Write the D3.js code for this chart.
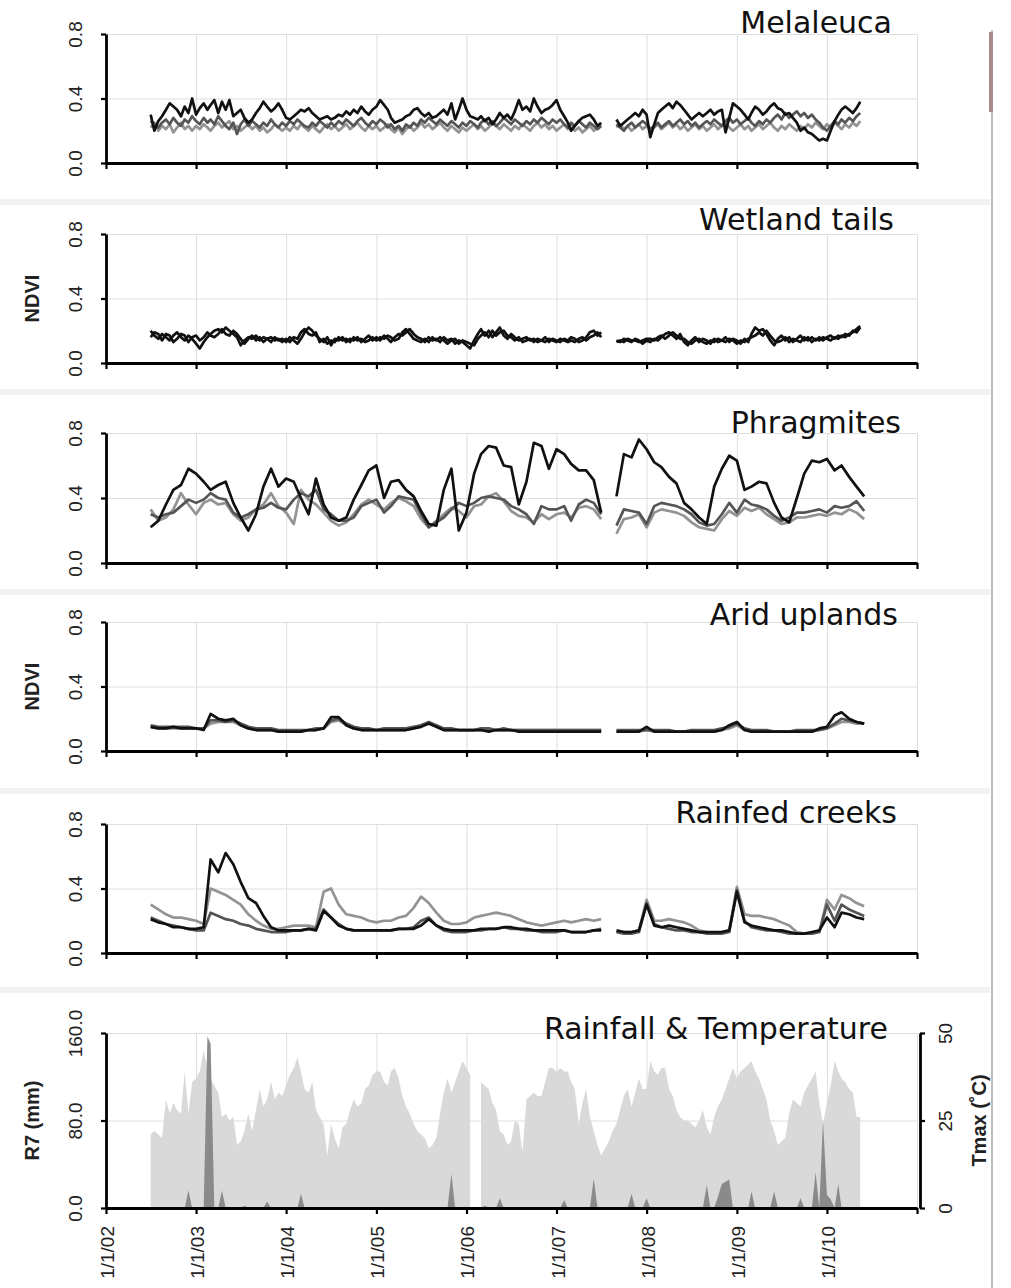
<!DOCTYPE html>
<html lang="en">
<head>
<meta charset="UTF-8" />
<title>NDVI, rainfall and temperature</title>
<script src="https://cdn.jsdelivr.net/npm/d3@7"></script>
<style>
  body { margin: 0; background: #fff; }
  svg { display: block; }
</style>
</head>
<body>
<svg id="vis" width="1011" height="1288"></svg>
<script>
// ---- dates: half-monthly (1st / 16th) Jul 2002 - May 2010, monthly Jul 2002 - Jun 2010
var halfMonths = [];
d3.timeMonth.range(new Date(2002, 6, 1), new Date(2010, 5, 1)).forEach(function (m) {
  halfMonths.push(m);
  halfMonths.push(new Date(m.getFullYear(), m.getMonth(), 16));
});
var months = d3.timeMonth.range(new Date(2002, 6, 1), new Date(2010, 6, 1));

// ---- Melaleuca (half-monthly)
var mel1 = [
  .30,.20,.26,.29,.33,.37,.35,.33,.29,.35,.31,.40,
  .30,.34,.37,.33,.36,.39,.31,.38,.33,.39,.29,.31,.33,.28,.25,.27,.31,.34,.38,.35,.32,.34,.37,.33,
  .28,.27,.29,.31,.33,.32,.34,.31,.29,.27,.28,.29,.27,.28,.30,.29,.32,.30,.33,.31,.35,.32,.30,.33,
  .35,.39,.36,.33,.28,.25,.26,.27,.29,.30,.33,.34,.31,.29,.31,.28,.29,.31,.33,.30,.37,.27,.33,.40,
  .33,.29,.28,.27,.29,.26,.28,.24,.27,.31,.28,.30,.27,.32,.39,.33,.35,.32,.40,.35,.31,.33,.34,.36,
  .39,.33,.29,.25,.20,.23,.26,.28,.29,.30,.27,.23,.25,null,null,null,.27,.23,.25,.27,.29,.31,.29,.33,
  .30,.16,.24,.31,.33,.35,.37,.34,.38,.36,.33,.30,.27,.29,.31,.29,.31,.33,.30,.32,.33,.19,.28,.37,
  .35,.33,.30,.27,.31,.35,.33,.30,.32,.35,.37,.34,.33,.30,.31,.28,.25,.20,.22,.19,.18,.16,.14,.15,
  .14,.20,.26,.30,.33,.35,.33,.31,.34,.38
];
var mel2 = [
  .26,.24,.22,.25,.27,.24,.28,.25,.23,.27,.25,.29,
  .26,.24,.28,.25,.27,.24,.29,.26,.23,.21,.25,.18,.24,.27,.23,.26,.24,.22,.25,.23,.27,.24,.22,.25,
  .23,.26,.24,.27,.25,.23,.22,.25,.23,.26,.24,.22,.25,.23,.26,.24,.27,.25,.23,.26,.28,.25,.23,.26,
  .24,.27,.25,.22,.24,.21,.23,.20,.24,.22,.25,.23,.27,.25,.28,.26,.24,.27,.25,.23,.26,.24,.22,.25,
  .23,.26,.24,.22,.25,.27,.24,.26,.23,.25,.28,.26,.24,.27,.25,.23,.26,.24,.27,.25,.28,.26,.24,.27,
  .25,.27,.24,.22,.25,.23,.26,.24,.22,.25,.23,.21,.23,null,null,null,.24,.22,.20,.23,.25,.22,.24,.26,
  .24,.21,.23,.25,.22,.24,.26,.23,.25,.27,.24,.26,.23,.25,.22,.24,.26,.24,.27,.25,.23,.26,.28,.25,
  .27,.24,.26,.28,.25,.23,.26,.24,.27,.25,.28,.30,.27,.31,.28,.30,.32,.29,.31,.28,.30,.27,.25,.22,
  .20,.23,.26,.24,.27,.25,.28,.26,.29,.31
];
var mel3 = [
  .22,.25,.20,.23,.21,.24,.19,.22,.25,.21,.23,.20,
  .23,.21,.24,.22,.20,.23,.25,.22,.24,.26,.21,.23,.20,.22,.24,.21,.23,.20,.22,.19,.21,.24,.22,.20,
  .22,.20,.23,.21,.24,.22,.20,.23,.21,.19,.22,.24,.21,.23,.20,.22,.24,.21,.23,.25,.22,.20,.23,.21,
  .23,.20,.22,.24,.21,.19,.22,.18,.21,.23,.20,.22,.25,.22,.24,.21,.23,.25,.22,.20,.23,.21,.19,.22,
  .20,.22,.24,.21,.23,.20,.22,.25,.23,.21,.24,.22,.20,.23,.21,.24,.22,.20,.23,.25,.22,.24,.21,.23,
  .20,.22,.24,.21,.23,.20,.22,.19,.21,.23,.20,.22,.24,null,null,null,.22,.24,.21,.23,.20,.22,.24,.21,
  .23,.20,.22,.24,.21,.23,.25,.22,.24,.21,.23,.20,.22,.24,.21,.23,.20,.22,.24,.21,.23,.25,.22,.20,
  .22,.24,.21,.23,.20,.22,.24,.21,.23,.25,.22,.20,.23,.21,.24,.22,.20,.23,.21,.24,.22,.25,.23,.21,
  .24,.22,.25,.23,.21,.24,.22,.25,.23,.26
];

// ---- Wetland tails (half-monthly)
var wet1 = [
  .20,.17,.15,.18,.16,.14,.17,.19,.16,.14,.17,.15,
  .12,.09,.13,.16,.18,.20,.21,.19,.22,.20,.18,.16,.11,.14,.16,.15,.17,.14,.16,.15,.13,.16,.14,.15,
  .13,.16,.14,.12,.15,.19,.22,.20,.17,.15,.13,.16,.11,.15,.14,.16,.13,.15,.14,.16,.13,.15,.17,.14,
  .16,.14,.17,.15,.13,.16,.18,.17,.19,.21,.18,.16,.15,.13,.16,.14,.15,.13,.16,.14,.15,.12,.14,.13,
  .11,.09,.14,.18,.21,.17,.20,.16,.19,.22,.17,.15,.18,.16,.14,.15,.16,.14,.15,.13,.14,.16,.13,.15,
  .14,.13,.15,.14,.16,.15,.13,.14,.16,.19,.20,.17,.19,null,null,null,.14,.13,.15,.14,.13,.15,.14,.12,
  .14,.13,.15,.14,.16,.18,.19,.17,.15,.18,.13,.11,.14,.16,.13,.15,.14,.12,.15,.13,.14,.16,.13,.15,
  .14,.12,.15,.13,.18,.22,.20,.21,.18,.14,.11,.15,.17,.14,.16,.13,.15,.17,.14,.16,.13,.15,.14,.16,
  .15,.14,.16,.15,.17,.16,.18,.19,.21,.23
];
var wet2 = [
  .16,.19,.18,.14,.18,.17,.13,.15,.18,.17,.13,.16,
  .17,.14,.16,.19,.17,.16,.18,.21,.18,.17,.20,.18,.15,.12,.15,.17,.14,.16,.13,.15,.16,.14,.15,.13,
  .15,.13,.16,.15,.19,.21,.18,.17,.19,.13,.15,.12,.14,.13,.16,.14,.15,.13,.16,.14,.15,.13,.14,.16,
  .14,.16,.15,.17,.16,.14,.15,.19,.21,.18,.15,.14,.13,.15,.13,.16,.14,.16,.14,.12,.14,.15,.12,.14,
  .13,.12,.11,.15,.17,.19,.16,.20,.17,.19,.20,.17,.16,.14,.16,.13,.14,.15,.13,.15,.14,.13,.15,.14,
  .13,.15,.14,.13,.14,.13,.15,.16,.14,.16,.17,.19,.16,null,null,null,.13,.14,.13,.15,.14,.14,.13,.14,
  .15,.15,.14,.16,.17,.15,.17,.19,.17,.15,.15,.13,.12,.14,.15,.13,.12,.14,.13,.15,.14,.13,.15,.14,
  .12,.14,.13,.15,.16,.17,.19,.17,.20,.17,.14,.13,.14,.16,.13,.15,.14,.13,.16,.14,.16,.14,.16,.14,
  .16,.17,.15,.17,.16,.18,.17,.20,.19,.22
];

// ---- Phragmites (monthly)
var phr1 = [
  .22,.26,.36,.45,.48,.58,
  .55,.50,.45,.48,.50,.37,.28,.20,.30,.47,.58,.47,
  .52,.50,.40,.30,.52,.36,.28,.26,.28,.39,.48,.57,
  .60,.40,.50,.51,.45,.41,.32,.24,.23,.45,.58,.20,
  .31,.55,.67,.72,.71,.60,.59,.36,.50,.74,.72,.58,
  .70,.67,.61,.57,.57,.51,.31,null,.41,.67,.65,.76,
  .70,.62,.59,.53,.49,.37,.33,.28,.24,.47,.58,.66,
  .63,.45,.47,.50,.49,.37,.28,.25,.40,.55,.63,.62,
  .64,.57,.60,.53,.47,.41
];
var phr2 = [
  .30,.28,.30,.31,.35,.39,
  .37,.39,.43,.40,.39,.31,.28,.30,.33,.34,.37,.34,
  .33,.39,.43,.41,.45,.33,.30,.26,.26,.28,.35,.37,
  .39,.31,.35,.41,.40,.39,.30,.22,.25,.28,.33,.37,
  .35,.37,.40,.41,.40,.39,.35,.33,.30,.24,.35,.33,
  .33,.35,.26,.36,.39,.37,.30,null,.23,.33,.32,.31,
  .24,.35,.37,.36,.35,.33,.30,.25,.23,.24,.30,.37,
  .31,.39,.36,.35,.33,.29,.26,.28,.31,.31,.32,.33,
  .31,.35,.34,.35,.38,.32
];
var phr3 = [
  .33,.26,.28,.33,.43,.36,
  .30,.37,.39,.36,.37,.30,.26,.28,.33,.36,.43,.35,
  .31,.24,.45,.39,.36,.31,.26,.23,.25,.30,.36,.39,
  .36,.33,.37,.40,.38,.35,.27,.22,.26,.30,.34,.32,
  .28,.35,.36,.41,.43,.38,.32,.29,.28,.25,.30,.27,
  .30,.31,.28,.34,.35,.33,.27,null,.18,.27,.28,.30,
  .22,.31,.33,.32,.31,.29,.25,.22,.21,.20,.27,.32,
  .29,.34,.32,.34,.30,.27,.24,.25,.28,.28,.29,.30,
  .29,.31,.30,.33,.31,.27
];

// ---- Arid uplands (monthly)
var arid1 = [
  .15,.14,.14,.15,.14,.14,
  .14,.13,.23,.20,.19,.20,.16,.14,.13,.13,.13,.12,
  .12,.12,.12,.13,.13,.14,.21,.21,.16,.14,.13,.13,
  .13,.13,.13,.13,.13,.14,.15,.17,.15,.13,.13,.13,
  .13,.13,.13,.12,.13,.13,.13,.12,.12,.12,.12,.12,
  .12,.12,.12,.12,.12,.12,.12,null,.12,.12,.12,.12,
  .15,.12,.12,.12,.12,.12,.12,.12,.12,.12,.13,.16,
  .18,.13,.12,.12,.12,.12,.12,.12,.12,.12,.12,.14,
  .15,.22,.24,.20,.18,.17
];
var arid2 = [
  .16,.15,.15,.15,.15,.15,
  .14,.14,.19,.19,.18,.19,.17,.15,.14,.14,.14,.13,
  .13,.13,.13,.13,.14,.14,.19,.20,.17,.15,.14,.14,
  .13,.14,.14,.14,.14,.15,.16,.18,.16,.14,.14,.13,
  .13,.13,.14,.14,.13,.14,.13,.13,.13,.13,.13,.13,
  .13,.13,.13,.13,.13,.13,.13,null,.13,.13,.13,.13,
  .13,.13,.13,.13,.12,.12,.13,.13,.13,.13,.14,.15,
  .17,.14,.13,.13,.13,.12,.12,.12,.13,.13,.13,.13,
  .14,.17,.20,.19,.18,.17
];
var arid3 = [
  .15,.14,.14,.14,.14,.14,
  .14,.14,.17,.18,.18,.18,.16,.14,.13,.13,.13,.12,
  .12,.12,.12,.13,.13,.14,.18,.19,.16,.14,.13,.13,
  .13,.13,.13,.13,.13,.14,.16,.17,.15,.13,.13,.13,
  .13,.13,.13,.13,.13,.13,.13,.13,.13,.13,.13,.13,
  .13,.13,.13,.13,.13,.13,.13,null,.12,.12,.12,.12,
  .13,.12,.12,.12,.12,.12,.12,.12,.12,.12,.13,.14,
  .16,.13,.12,.12,.12,.12,.12,.12,.12,.12,.12,.13,
  .14,.16,.18,.18,.17,.17
];

// ---- Rainfed creeks (monthly)
var cr1 = [
  .21,.19,.18,.16,.16,.15,
  .15,.16,.58,.50,.62,.55,.44,.34,.31,.23,.16,.14,
  .14,.14,.14,.15,.14,.26,.22,.17,.15,.14,.14,.14,
  .14,.14,.14,.15,.15,.15,.17,.21,.17,.15,.14,.14,
  .14,.14,.15,.15,.15,.16,.16,.15,.15,.14,.14,.14,
  .14,.14,.13,.13,.13,.14,.14,null,.14,.13,.13,.14,
  .30,.17,.16,.17,.16,.15,.14,.13,.13,.13,.13,.14,
  .38,.19,.17,.16,.15,.14,.14,.13,.12,.12,.13,.14,
  .22,.16,.25,.24,.22,.21
];
var cr2 = [
  .30,.27,.24,.22,.22,.21,
  .20,.18,.40,.38,.36,.33,.30,.24,.20,.17,.15,.15,
  .16,.17,.17,.17,.16,.38,.40,.30,.24,.23,.22,.20,
  .19,.20,.20,.22,.23,.28,.35,.31,.25,.20,.18,.18,
  .19,.22,.23,.24,.25,.24,.23,.21,.19,.18,.17,.18,
  .19,.20,.19,.20,.21,.20,.21,null,.13,.13,.13,.14,
  .33,.20,.20,.21,.20,.19,.17,.14,.13,.12,.13,.14,
  .41,.24,.23,.23,.22,.21,.19,.17,.13,.12,.12,.13,
  .33,.27,.36,.34,.31,.29
];
var cr3 = [
  .22,.20,.18,.17,.16,.15,
  .14,.14,.25,.23,.21,.20,.18,.17,.15,.14,.13,.13,
  .13,.14,.14,.15,.15,.27,.22,.18,.15,.14,.14,.14,
  .14,.14,.14,.15,.15,.16,.20,.22,.17,.14,.13,.13,
  .13,.14,.14,.15,.15,.16,.15,.15,.14,.14,.13,.13,
  .13,.14,.13,.13,.13,.14,.15,null,.13,.12,.12,.13,
  .31,.18,.16,.15,.14,.14,.13,.13,.12,.12,.12,.13,
  .39,.20,.16,.15,.14,.14,.13,.12,.12,.12,.12,.13,
  .30,.20,.30,.27,.25,.23
];

// ---- Rainfall & temperature (half-monthly)
var tmax = [
  21,22,21,20,31,27,30,28,27,39,27,36,
  37,39,45,40,37,35,33,26,27,25,26,18,19,22,27,22,28,34,29,31,36,31,33,32,
  35,38,40,43,39,34,33,36,28,26,24,15,24,20,17,23,24,28,31,29,30,34,35,38,
  39,39,36,35,39,40,37,32,29,27,24,22,21,20,17,18,20,27,33,37,33,36,39,42,
  40,38,null,null,36,35,34,30,28,22,21,18,19,25,24,16,31,32,33,32,32,36,40,40,
  39,40,39,39,36,34,24,30,34,26,22,18,15,17,19,22,24,28,32,34,29,33,37,34,
  34,42,39,38,40,40,34,32,28,26,25,25,24,23,25,28,23,21,26,29,31,34,37,40,
  37,39,40,41,42,39,37,34,31,25,22,18,19,20,27,31,30,29,33,35,37,39,30,24,
  30,35,42,39,37,36,34,33,26,26
];
var r7 = [
  0,0,0,0,0,0,0,0,0,0,16,0,
  0,0,0,157,150,0,0,16,0,0,0,0,0,2,0,0,0,0,0,6,0,0,0,0,
  0,0,0,0,13,0,0,0,0,0,0,0,0,0,0,0,0,0,0,0,0,1,0,0,
  0,0,0,0,0,0,0,0,0,0,0,0,0,0,0,0,0,0,0,0,31,0,0,0,
  0,0,null,null,0,2,0,0,0,9,0,0,0,0,0,0,0,0,0,0,0,0,0,0,
  0,0,7,0,0,0,0,0,0,0,27,0,0,0,0,0,0,0,0,0,13,0,0,0,
  9,0,0,0,0,0,0,0,0,0,0,0,0,0,0,0,21,0,0,10,22,24,26,0,
  0,0,0,0,15,0,0,0,0,0,15,0,0,0,0,0,0,9,0,0,0,33,0,80,
  12,8,0,22,0,0,0,0,0,0
];

var ndviTicks = [0, 0.4, 0.8];
var rainTicks = [0, 80, 160];
var tempTicks = [0, 25, 50];

// ---- layout
var BLACK = "#111", DARK = "#555", GREY = "#939393";
var x0 = 106, x1 = 917;
var panels = [
  { title: "Melaleuca", top: 34, bottom: 163, tEnd: 892, tBase: 33, dates: halfMonths,
    series: [mel3, mel2, mel1], colors: [GREY, DARK, BLACK], label: null },
  { title: "Wetland tails", top: 234, bottom: 363, tEnd: 894, tBase: 230, dates: halfMonths,
    series: [wet2, wet1], colors: [BLACK, BLACK], label: "NDVI" },
  { title: "Phragmites", top: 433, bottom: 563, tEnd: 901, tBase: 433, dates: months,
    series: [phr3, phr2, phr1], colors: [GREY, DARK, BLACK], label: null },
  { title: "Arid uplands", top: 622, bottom: 751, tEnd: 898, tBase: 625, dates: months,
    series: [arid3, arid2, arid1], colors: [GREY, DARK, BLACK], label: "NDVI" },
  { title: "Rainfed creeks", top: 824, bottom: 953, tEnd: 897, tBase: 823, dates: months,
    series: [cr2, cr3, cr1], colors: [GREY, DARK, BLACK], label: null }
];
var rainPanel = { title: "Rainfall & Temperature", top: 1033, bottom: 1208, tEnd: 888, tBase: 1039 };

var svg = d3.select("#vis");
var x = d3.scaleTime().domain([new Date(2002, 0, 1), new Date(2011, 0, 1)]).range([x0, x1]);
var years = d3.timeYear.range(new Date(2002, 0, 1), new Date(2011, 0, 2));
var lastYear = years[years.length - 1];
var tickFont = "'Liberation Sans', Arial, sans-serif";
var dateFmt = d3.timeFormat("%-m/%-d/%y");

// faint scan artefacts: panel separators and right border
[199, 389, 589, 788, 987].forEach(function (yy) {
  svg.append("rect").attr("x", 0).attr("y", yy).attr("width", 990).attr("height", 6).attr("fill", "#f2f2f2");
});
svg.append("line").attr("x1", 992).attr("x2", 992).attr("y1", 30).attr("y2", 1288)
  .attr("stroke", "#bdbdbd").attr("stroke-width", 2);
svg.append("rect").attr("x", 989).attr("y", 32).attr("width", 4).attr("height", 80).attr("fill", "#a8898d");

function grid(p, y, ticks) {
  var g = svg.append("g");
  g.append("g").attr("transform", "translate(0," + p.bottom + ")")
    .call(d3.axisBottom(x).tickValues(years).tickSize(-(p.bottom - p.top)).tickFormat(""));
  g.append("g").attr("transform", "translate(" + x0 + ",0)")
    .call(d3.axisLeft(y).tickValues(ticks).tickSize(-(x1 - x0)).tickFormat(""));
  g.selectAll(".domain").remove();
  g.selectAll(".tick line").attr("stroke", "#dedede").attr("stroke-width", 1);
}

function rotLabels(sel, dx, dy, anchor) {
  sel.selectAll(".tick text")
    .attr("x", null).attr("y", null).attr("dy", null)
    .attr("transform", "translate(" + dx + "," + dy + ") rotate(-90)")
    .attr("text-anchor", anchor)
    .attr("font-family", tickFont).attr("font-size", 19).attr("fill", "#222");
}

function axes(p, y, ticks, fmt, withDates) {
  var gx = svg.append("g").attr("transform", "translate(0," + p.bottom + ")")
    .call(d3.axisBottom(x).tickValues(years).tickSize(6).tickSizeOuter(0)
      .tickFormat(function (d) { return withDates && +d !== +lastYear ? dateFmt(d) : ""; }));
  var gy = svg.append("g").attr("transform", "translate(" + x0 + ",0)")
    .call(d3.axisLeft(y).tickValues(ticks).tickSize(5).tickSizeOuter(0).tickFormat(fmt));
  [gx, gy].forEach(function (g) {
    g.select(".domain").attr("stroke", "#000").attr("stroke-width", 2.8);
    g.selectAll(".tick line").attr("stroke", "#000").attr("stroke-width", 2.2);
  });
  rotLabels(gy, -24, 0, "middle");
  if (withDates) rotLabels(gx, 7.5, 18, "end");
}

function title(p) {
  svg.append("text").attr("x", p.tEnd).attr("y", p.tBase).attr("text-anchor", "end")
    .attr("font-family", "'DejaVu Sans', Verdana, sans-serif").attr("font-size", 30)
    .attr("fill", "#111").text(p.title);
}

function sideLabel(txt, cx, cy) {
  svg.append("text").attr("transform", "translate(" + cx + "," + cy + ") rotate(-90)")
    .attr("text-anchor", "middle").attr("font-family", tickFont).attr("font-weight", "bold")
    .attr("font-size", 20).attr("fill", "#222").text(txt);
}

// ---- NDVI panels
panels.forEach(function (p) {
  var y = d3.scaleLinear().domain([0, 0.8]).range([p.bottom, p.top]);
  grid(p, y, ndviTicks);
  var line = d3.line()
    .defined(function (d) { return d.v != null; })
    .x(function (d) { return x(d.date); })
    .y(function (d) { return y(d.v); });
  p.series.forEach(function (s, k) {
    var pts = p.dates.map(function (d, i) { return { date: d, v: s[i] }; });
    svg.append("path").attr("d", line(pts)).attr("fill", "none")
      .attr("stroke", p.colors[k]).attr("stroke-width", 2.7).attr("stroke-linejoin", "round");
  });
  axes(p, y, ndviTicks, d3.format(".1f"), false);
  title(p);
  if (p.label) sideLabel(p.label, 39, (p.top + p.bottom) / 2);
});

// ---- Rainfall & temperature panel
var yR = d3.scaleLinear().domain([0, 160]).range([rainPanel.bottom, rainPanel.top]);
var yT = d3.scaleLinear().domain([0, 50]).range([rainPanel.bottom, rainPanel.top]);
grid(rainPanel, yR, rainTicks);

var tPts = halfMonths.map(function (d, i) { return { date: d, v: tmax[i] }; });
var rPts = halfMonths.map(function (d, i) { return { date: d, v: r7[i] }; });
var area = function (sc) {
  return d3.area()
    .defined(function (d) { return d.v != null; })
    .x(function (d) { return x(d.date); })
    .y0(sc(0))
    .y1(function (d) { return sc(d.v); });
};
svg.append("path").attr("d", area(yT)(tPts)).attr("fill", "#d9d9d9");
svg.append("path").attr("d", area(yR)(rPts)).attr("fill", "#8a8a8a");

axes(rainPanel, yR, rainTicks, d3.format(".1f"), true);

var xr = 920;
var gr = svg.append("g").attr("transform", "translate(" + xr + ",0)")
  .call(d3.axisRight(yT).tickValues(tempTicks).tickSize(5).tickSizeOuter(0).tickFormat(d3.format("d")));
gr.select(".domain").attr("stroke", "#000").attr("stroke-width", 2.8);
gr.selectAll(".tick line").attr("stroke", "#000").attr("stroke-width", 2.2);
rotLabels(gr, 32, 0, "middle");

title(rainPanel);
sideLabel("R7 (mm)", 39, (rainPanel.top + rainPanel.bottom) / 2);
sideLabel("Tmax (\u02DAC)", 986, (rainPanel.top + rainPanel.bottom) / 2);
</script>
</body>
</html>
